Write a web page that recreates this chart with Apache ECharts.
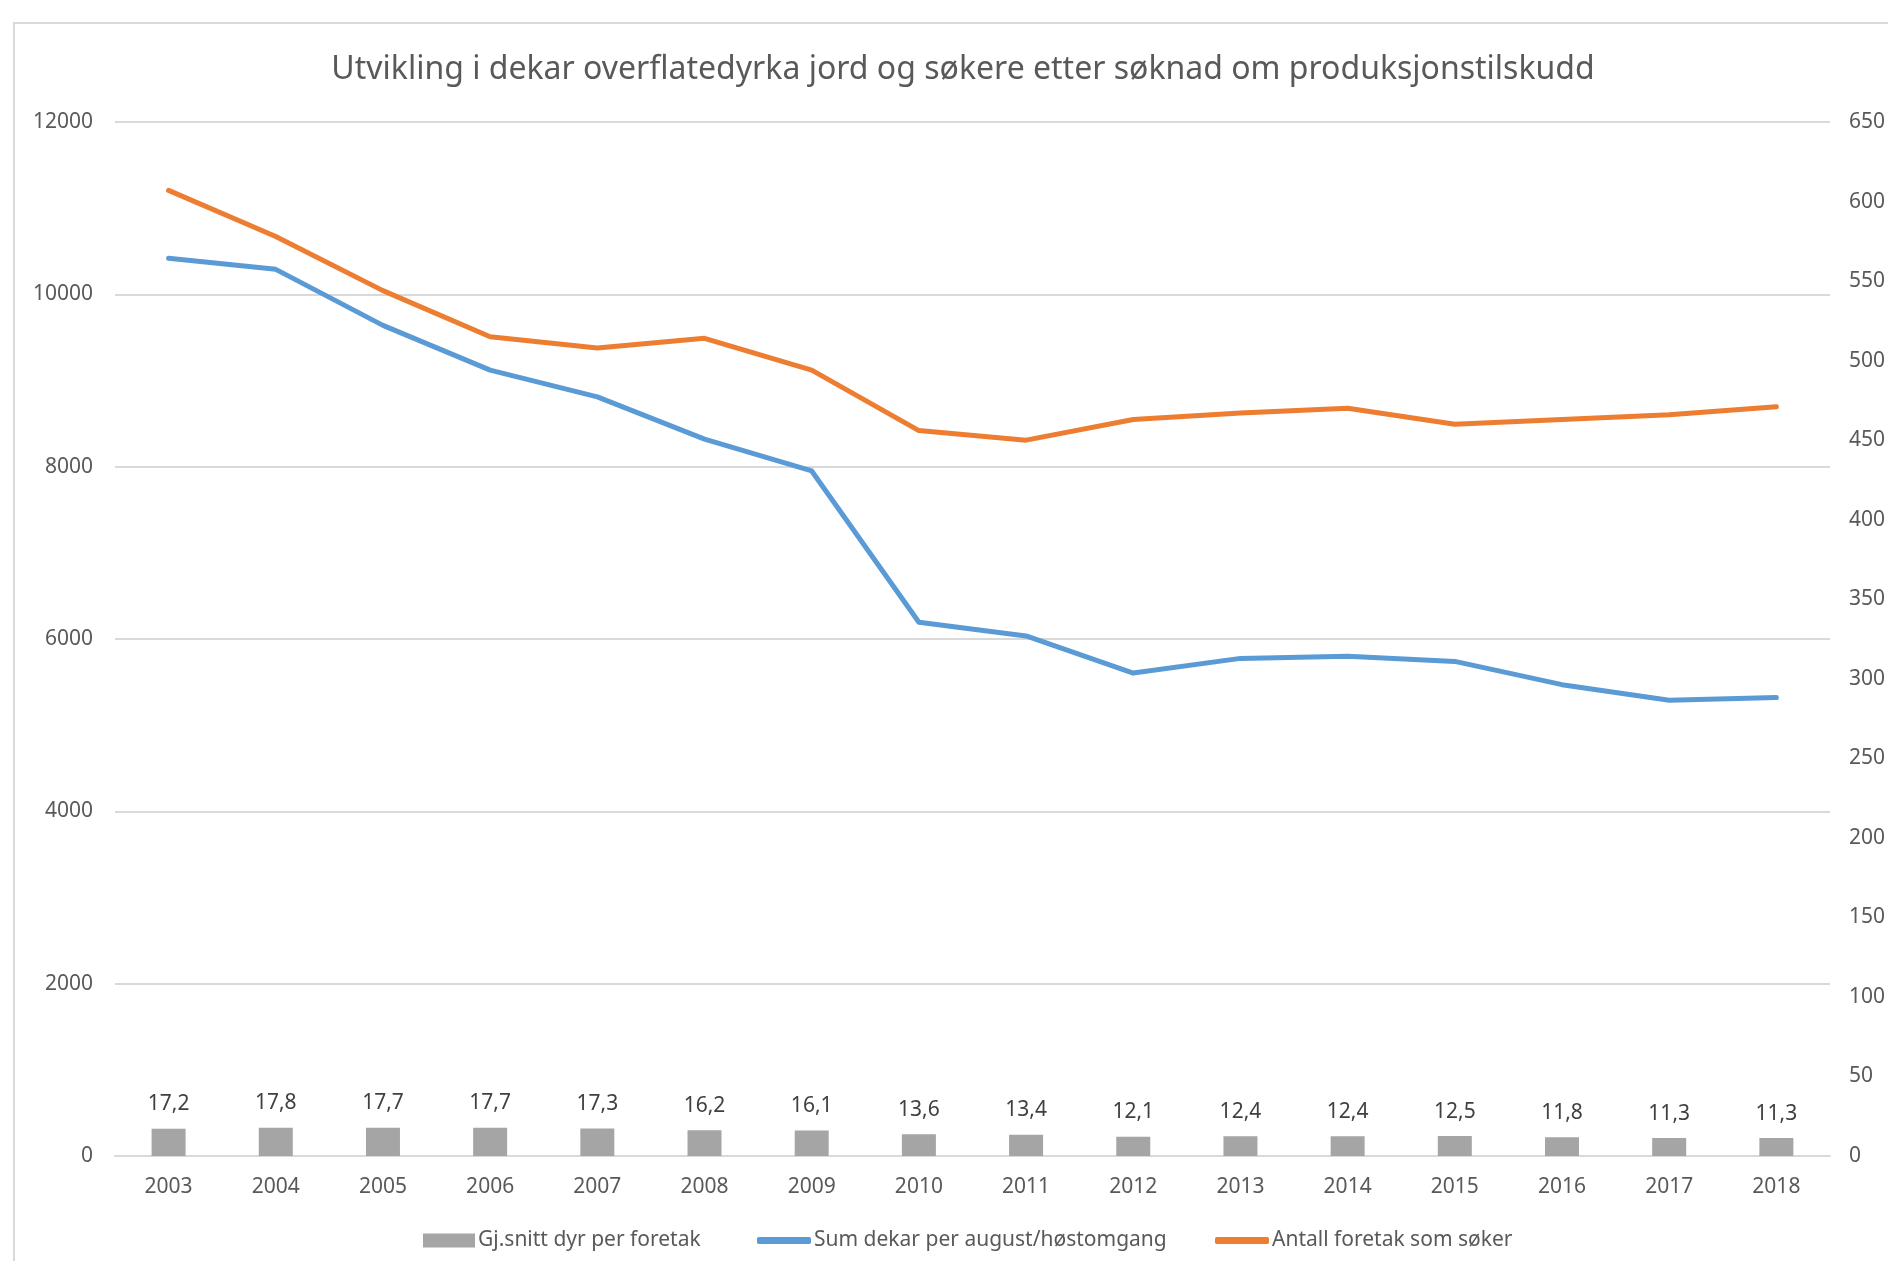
<!DOCTYPE html>
<html>
<head>
<meta charset="utf-8">
<script src="https://cdn.jsdelivr.net/npm/echarts@6/dist/echarts.min.js"></script>
<style>
  html, body { margin: 0; padding: 0; background: #fff; }
  #chart { width: 1888px; height: 1261px; }
</style>
</head>
<body>
<div id="chart"></div>
<script>
  var years = ['2003', '2004', '2005', '2006', '2007', '2008', '2009', '2010',
    '2011', '2012', '2013', '2014', '2015', '2016', '2017', '2018']
  // Gj.snitt dyr per foretak (right axis)
  var dyrPerForetak = [17.2, 17.8, 17.7, 17.7, 17.3, 16.2, 16.1, 13.6, 13.4, 12.1, 12.4, 12.4, 12.5, 11.8, 11.3, 11.3]
  // Sum dekar per august/høstomgang (left axis)
  var sumDekar = [10420, 10290, 9640, 9120, 8810, 8320, 7950, 6195, 6035, 5605, 5775, 5800, 5740, 5470, 5290, 5320]
  // Antall foretak som søker (right axis)
  var antallForetak = [607, 578, 544, 515, 508, 514, 494, 456, 450, 463, 467, 470, 460, 463, 466, 471]

  var leftMax = 12000, leftStep = 2000
  var rightMax = 650, rightStep = 50

  var font = 'Noto Sans'
  var grey = '#595959'

  var mychart = echarts.init(document.getElementById('chart'))

  var legendText = { fontFamily: font, fontSize: 21, color: grey, padding: [0, 0, 0, -2] }

  var option = {
    backgroundColor: '#fff',
    animation: false,
    title: {
      text: 'Utvikling i dekar overflatedyrka jord og søkere etter søknad om produksjonstilskudd',
      left: 958,
      top: 49,
      textAlign: 'center',
      textStyle: { fontFamily: font, fontSize: 32, fontWeight: 'normal', color: grey }
    },
    graphic: [{
      type: 'rect',
      silent: true,
      z: -10,
      shape: { x: 14, y: 23, width: 2000, height: 2000 },
      style: { fill: 'none', stroke: '#d9d9d9', lineWidth: 2 }
    }],
    legend: [{
      data: [{ name: 'Gj.snitt dyr per foretak', icon: 'rect' }],
      left: 418, top: 1225,
      itemWidth: 52, itemHeight: 14, itemGap: 0,
      textStyle: legendText
    }, {
      data: [{ name: 'Sum dekar per august/høstomgang', icon: 'roundRect' }],
      left: 752, top: 1225,
      itemWidth: 54, itemHeight: 7, itemGap: 0,
      textStyle: legendText
    }, {
      data: [{ name: 'Antall foretak som søker', icon: 'roundRect' }],
      left: 1210, top: 1225,
      itemWidth: 54, itemHeight: 7, itemGap: 0,
      textStyle: legendText
    }],
    grid: { left: 115, right: 53, top: 122, bottom: 105, containLabel: false },
    xAxis: {
      type: 'category',
      data: years,
      boundaryGap: true,
      axisLine: { lineStyle: { color: '#d9d9d9', width: 2 } },
      axisTick: { show: false },
      axisLabel: { fontFamily: font, fontSize: 21, color: grey, margin: 21 }
    },
    yAxis: [{
      type: 'value',
      min: 0, max: leftMax, interval: leftStep,
      axisLine: { show: false },
      axisTick: { show: false },
      splitLine: { lineStyle: { color: '#d9d9d9', width: 2 } },
      axisLabel: {
        fontFamily: font, fontSize: 21, color: grey, margin: 22,
        formatter: function (v) { return String(v) }
      }
    }, {
      type: 'value',
      min: 0, max: rightMax, interval: rightStep,
      axisLine: { show: false },
      axisTick: { show: false },
      splitLine: { show: false },
      axisLabel: {
        fontFamily: font, fontSize: 21, color: grey, margin: 19,
        formatter: function (v) { return String(v) }
      }
    }],
    series: [{
      name: 'Gj.snitt dyr per foretak',
      type: 'bar',
      yAxisIndex: 1,
      data: dyrPerForetak,
      barWidth: 34,
      itemStyle: { color: '#a5a5a5' },
      label: {
        show: true,
        position: 'top',
        distance: 14,
        fontFamily: font,
        fontSize: 21,
        color: '#404040',
        formatter: function (p) { return String(p.value).replace('.', ',') }
      }
    }, {
      name: 'Sum dekar per august/høstomgang',
      type: 'line',
      yAxisIndex: 0,
      data: sumDekar,
      symbol: 'none',
      lineStyle: { color: '#5b9bd5', width: 5, cap: 'round', join: 'round' },
      itemStyle: { color: '#5b9bd5' }
    }, {
      name: 'Antall foretak som søker',
      type: 'line',
      yAxisIndex: 1,
      data: antallForetak,
      symbol: 'none',
      lineStyle: { color: '#ed7d31', width: 5, cap: 'round', join: 'round' },
      itemStyle: { color: '#ed7d31' }
    }]
  }

  option && mychart.setOption(option)
</script>
</body>
</html>
